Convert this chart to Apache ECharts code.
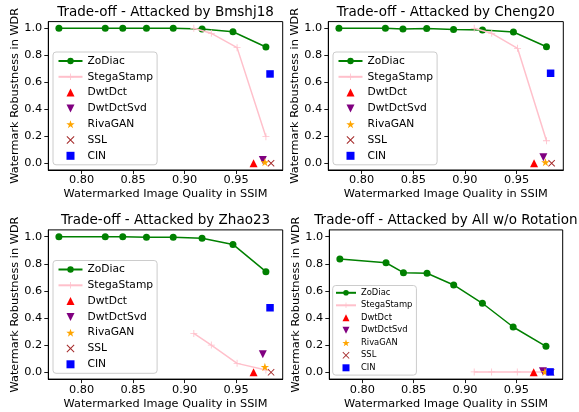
<!DOCTYPE html>
<html><head><meta charset="utf-8">
<script src="https://cdn.jsdelivr.net/npm/echarts@6/dist/echarts.min.js"></script>
<style>html,body{margin:0;padding:0;background:#fff}#c{width:579px;height:412px}</style>
</head><body><div id="c"></div>
<script>
// ---------- data ----------
const methods = ['ZoDiac','StegaStamp','DwtDct','DwtDctSvd','RivaGAN','SSL','CIN'];
const attacks = ['Bmshj18','Cheng20','Zhao23','All w/o Rotation'];
const xTicks = [0.80, 0.85, 0.90, 0.95];
const yTicks = [0.0, 0.2, 0.4, 0.6, 0.8, 1.0];

const zodiacSSIM = [0.778, 0.823, 0.840, 0.863, 0.889, 0.917, 0.947, 0.979];
const stegaSSIM  = [0.909, 0.926, 0.951, 0.979];
// single-point baselines: DwtDct, DwtDctSvd, RivaGAN, SSL, CIN
const baselineSSIM = [0.967, 0.976, 0.978, 0.984, 0.983];

const zodiacBmshj18 = [1.0, 1.0, 1.0, 1.0, 1.0, 0.995, 0.975, 0.862];
const zodiacCheng20 = [1.0, 1.0, 0.996, 0.998, 0.992, 0.988, 0.973, 0.864];
const zodiacZhao23  = [1.0, 1.0, 1.0, 0.996, 0.995, 0.988, 0.943, 0.742];
const zodiacAll     = [0.835, 0.808, 0.735, 0.730, 0.644, 0.509, 0.334, 0.192];

const stegaBmshj18 = [1.0, 0.963, 0.857, 0.197];
const stegaCheng20 = [1.0, 0.963, 0.852, 0.167];
const stegaZhao23  = [0.287, 0.201, 0.066, 0.017];
const stegaAll     = [0.003, 0.003, 0.003, 0.003];

const baselineBmshj18 = [0.0, 0.025, 0.008, 0.0, 0.662];
const baselineCheng20 = [0.0, 0.044, 0.008, 0.0, 0.667];
const baselineZhao23  = [0.0, 0.133, 0.040, 0.0, 0.476];
const baselineAll     = [0.0, 0.008, 0.003, 0.0, 0.003];

const zodiacByAttack = [zodiacBmshj18, zodiacCheng20, zodiacZhao23, zodiacAll];
const stegaByAttack = [stegaBmshj18, stegaCheng20, stegaZhao23, stegaAll];
const baselineByAttack = [baselineBmshj18, baselineCheng20, baselineZhao23, baselineAll];

// ---------- styles ----------
const FONT = 'DejaVu Sans';
const PLUS = 'path://M0,4.4 H10 V5.6 H0 Z M4.4,0 H5.6 V10 H4.4 Z';
const XSHAPE = 'path://M0.9,0 L5,4.1 L9.1,0 L10,0.9 L5.9,5 L10,9.1 L9.1,10 L5,5.9 L0.9,10 L0,9.1 L4.1,5 L0,0.9 Z';
const STAR = 'path://M50,0 L61.8,35.3 L98.5,35.3 L68.8,57.1 L80.1,92.4 L50,70.6 L19.9,92.4 L31.2,57.1 L1.5,35.3 L38.2,35.3 Z';
const TRI_UP = 'path://M5,0 L10,10 L0,10 Z';
const TRI_DOWN = 'path://M0,0 L10,0 L5,10 Z';
const SQUARE = 'path://M0,0 H10 V10 H0 Z';
const baseStyle = [
  {color:'#ff0000', symbol:TRI_UP, size:8},
  {color:'#800080', symbol:TRI_DOWN, size:8},
  {color:'#ffa500', symbol:STAR, size:8.5},
  {color:'#a52a2a', symbol:XSHAPE, size:7},
  {color:'#0000ff', symbol:SQUARE, size:7.5}
];
const grids = [
  {left:48.3, top:21.6, width:234.4, height:148.4},
  {left:328.3, top:21.6, width:235, height:148.4},
  {left:48.3, top:229.9, width:234.4, height:149.2},
  {left:329.3, top:229.9, width:233.4, height:149.2}
];
const legendPos = [
  {left:53, top:52, small:false},
  {left:333, top:52, small:false},
  {left:53, top:260.5, small:false},
  {left:332.7, top:285.5, small:true}
];

const option = {
  animation:false,
  backgroundColor:'#fff',
  textStyle:{fontFamily:FONT},
  grid: grids.map(g => Object.assign({show:true, borderColor:'#000', borderWidth:1, containLabel:false}, g)),
  xAxis: grids.map((g,i) => ({
    type:'value', gridIndex:i, min:0.7677, max:0.9953,
    name:'Watermarked Image Quality in SSIM', nameLocation:'middle', nameGap:19,
    nameTextStyle:{fontSize:11.3, color:'#000', fontFamily:FONT},
    axisLine:{show:true, onZero:false, lineStyle:{color:'#000', width:1}},
    axisTick:{show:true, length:4, lineStyle:{color:'#000', width:0.9}, customValues:xTicks},
    axisLabel:{show:true, margin:5, fontSize:11.3, color:'#000', fontFamily:FONT, customValues:xTicks, formatter:v=>v.toFixed(2)},
    splitLine:{show:false}
  })),
  yAxis: grids.map((g,i) => ({
    type:'value', gridIndex:i, min:-0.05, max:1.05,
    name:'Watermark Robustness in WDR', nameLocation:'middle', nameGap:28,
    nameTextStyle:{fontSize:11.3, color:'#000', fontFamily:FONT},
    axisLine:{show:true, onZero:false, lineStyle:{color:'#000', width:1}},
    axisTick:{show:true, length:4, lineStyle:{color:'#000', width:0.9}, customValues:yTicks},
    axisLabel:{show:true, margin:6, fontSize:11.3, color:'#000', fontFamily:FONT, customValues:yTicks, formatter:v=>v.toFixed(1)},
    splitLine:{show:false}
  })),
  legend: legendPos.map(p => ({
    orient:'vertical', left:p.left, top:p.top,
    data: methods,
    backgroundColor:'rgba(255,255,255,0.8)', borderColor:'#cccccc', borderWidth:1, borderRadius:3,
    padding: p.small ? [2.3,4,2.3,2.3] : [3,4,3,4.5],
    itemWidth: p.small ? 20 : 24,
    itemHeight: p.small ? 7 : 8,
    itemGap: p.small ? 2.5 : 3.8,
    symbolKeepAspect:true,
    selectedMode:false,
    textStyle:{fontFamily:FONT, color:'#000', fontSize: p.small ? 8.4 : 10.7, lineHeight: p.small ? 10 : 12}
  })),
  graphic: grids.map((g,i) => ({
    type:'text', x: g.left + g.width/2, y: g.top - 9.5,
    style:{text:'Trade-off - Attacked by ' + attacks[i], font:'13.5px "DejaVu Sans"', fill:'#000', textAlign:'center', textVerticalAlign:'middle'}
  })),
  series: []
};

for (let i = 0; i < 4; i++) {
  option.series.push({
    name:'ZoDiac', type:'line', xAxisIndex:i, yAxisIndex:i,
    data: zodiacSSIM.map((x,k)=>[x, zodiacByAttack[i][k]]),
    symbol:'circle', symbolSize:7, showSymbol:true,
    lineStyle:{color:'#008000', width:1.5}, itemStyle:{color:'#008000'}, z:2
  });
  option.series.push({
    name:'StegaStamp', type:'line', xAxisIndex:i, yAxisIndex:i,
    data: stegaSSIM.map((x,k)=>[x, stegaByAttack[i][k]]),
    symbol:PLUS, symbolSize:7, showSymbol:true, symbolKeepAspect:true,
    lineStyle:{color:'#ffc0cb', width:1.5}, itemStyle:{color:'#ffc0cb'}, z:3
  });
  baseStyle.forEach((s,k) => {
    option.series.push({
      name: methods[k+2], type:'scatter', xAxisIndex:i, yAxisIndex:i,
      data: [[baselineSSIM[k], baselineByAttack[i][k]]],
      symbol:s.symbol, symbolSize:s.size, symbolKeepAspect:true,
      itemStyle:{color:s.color, opacity:1}, z:4+k
    });
  });
}

const chart = echarts.init(document.getElementById('c'), null, {renderer:'canvas'});
chart.setOption(option);
</script></body></html>
